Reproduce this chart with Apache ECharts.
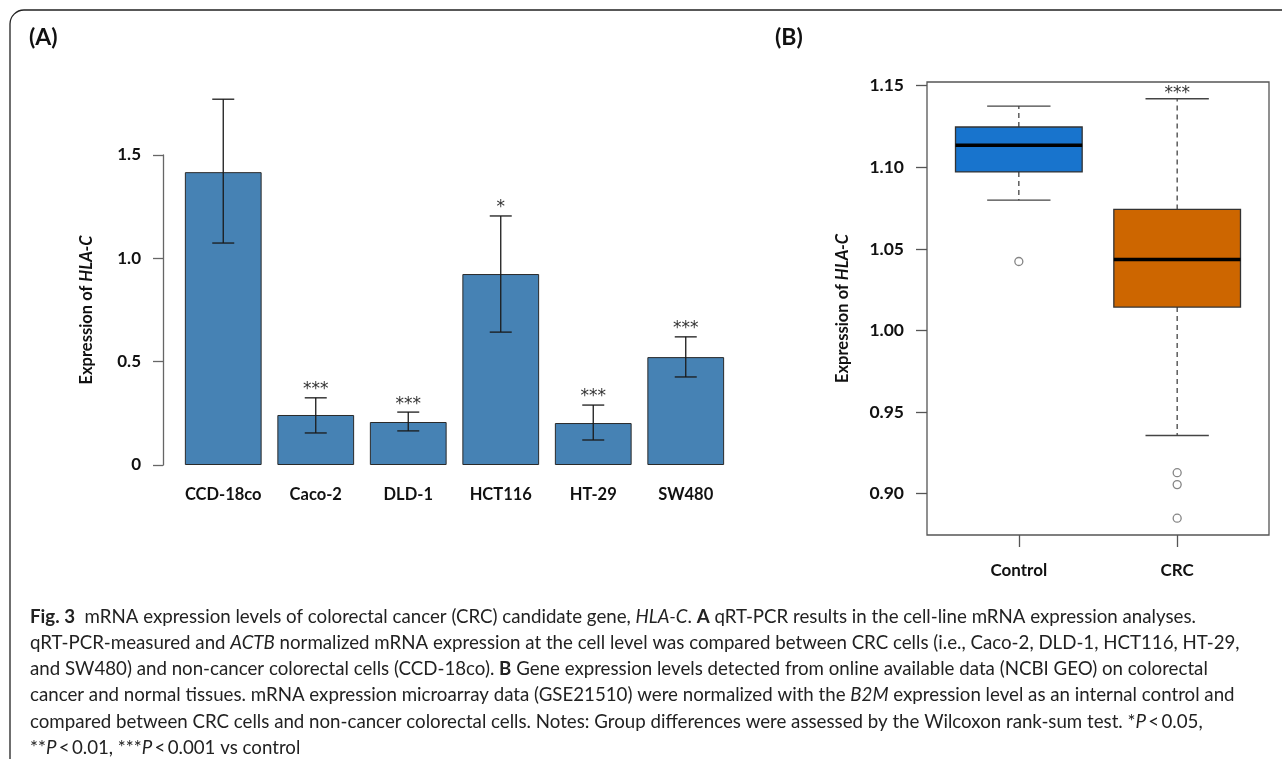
<!DOCTYPE html>
<html>
<head>
<meta charset="utf-8">
<script src="https://cdn.jsdelivr.net/npm/echarts@6/dist/echarts.min.js"></script>
<style>
html,body{margin:0;padding:0;background:#fff;}
#chart{width:1282px;height:759px;}
</style>
</head>
<body>
<div id="chart"></div>
<script>
// ---------- Panel A data ----------
const cellLines = ['CCD-18co', 'Caco-2', 'DLD-1', 'HCT116', 'HT-29', 'SW480'];
const meanExpr = [1.417, 0.242, 0.208, 0.924, 0.203, 0.522];
const errLower = [1.074, 0.155, 0.165, 0.643, 0.121, 0.426];
const errUpper = [1.770, 0.325, 0.256, 1.205, 0.290, 0.620];
const sigA = ['', '***', '***', '*', '***', '***'];
const yTicksA = [0, 0.5, 1.0, 1.5];

// ---------- Panel B data ----------
const groupsB = ['Control', 'CRC'];
const lowWhisker = [1.0799, 0.9357];
const q1 = [1.0972, 1.0144];
const medianB = [1.1136, 1.0435];
const q3 = [1.1247, 1.0742];
const highWhisker = [1.1375, 1.1420];
const outliersControl = [1.0423];
const outliersCRC = [0.9129, 0.9056, 0.8850];
const sigB = ['', '***'];
const yTicksB = [0.90, 0.95, 1.00, 1.05, 1.10, 1.15];

const FONT = 'Lato';
const boxColors = ['#1874CD', '#CD6600'];

// axis extent for B (R-style 4% padding of data range)
const allB = lowWhisker.concat(highWhisker, outliersControl, outliersCRC);
const bMin = Math.min.apply(null, allB), bMax = Math.max.apply(null, allB);
const bPad = (bMax - bMin) * 0.04;

const errData = cellLines.map((c, i) => [i, errLower[i], errUpper[i]]);
const boxData = groupsB.map((g, i) => [i + 1, lowWhisker[i], q1[i], medianB[i], q3[i], highWhisker[i], i]);
const outData = outliersControl.map(v => [1, v]).concat(outliersCRC.map(v => [2, v]));

const chart = echarts.init(document.getElementById('chart'));

const captionLines = [
  '{b|Fig. 3}  mRNA expression levels of colorectal cancer (CRC) candidate gene, {i|HLA-C}. {b|A} qRT-PCR results in the cell-line mRNA expression analyses.',
  'qRT-PCR-measured and {i|ACTB} normalized mRNA expression at the cell level was compared between CRC cells (i.e., Caco-2, DLD-1, HCT116, HT-29,',
  'and SW480) and non-cancer colorectal cells (CCD-18co). {b|B} Gene expression levels detected from online available data (NCBI GEO) on colorectal',
  'cancer and normal tissues. mRNA expression microarray data (GSE21510) were normalized with the {i|B2M} expression level as an internal control and',
  'compared between CRC cells and non-cancer colorectal cells. Notes: Group differences were assessed by the Wilcoxon rank-sum test. *{i|P}\u2009<\u20090.05,',
  '**{i|P}\u2009<\u20090.01, ***{i|P}\u2009<\u20090.001 vs control'
];
const capFont = 18.7;
const captionGraphics = captionLines.map((t, k) => ({
  type: 'text',
  left: 30,
  top: 607 + k * 26.3,
  style: {
    text: t,
    fontFamily: FONT,
    fontSize: capFont,
    fill: '#222',
    rich: {
      b: { fontWeight: 'bold', fontFamily: FONT, fontSize: capFont, fill: '#222' },
      i: { fontStyle: 'italic', fontFamily: FONT, fontSize: capFont, fill: '#222' }
    }
  }
}));

const starStyle = (s) => ({ text: s, fontFamily: 'DejaVu Sans', fontSize: 17, fill: '#333', align: 'center', verticalAlign: 'middle' });

const option = {
  animation: false,
  backgroundColor: '#fff',
  textStyle: { fontFamily: FONT },
  graphic: [
    { type: 'rect', shape: { x: 10, y: 10, width: 1320, height: 820, r: 14 },
      style: { fill: 'none', stroke: '#222', lineWidth: 1.3 }, silent: true },
    { type: 'text', left: 29, top: 26, style: { text: '(A)', fontFamily: FONT, fontWeight: 'bold', fontSize: 23, fill: '#111' } },
    { type: 'text', left: 775, top: 26, style: { text: '(B)', fontFamily: FONT, fontWeight: 'bold', fontSize: 23, fill: '#111' } }
  ].concat(captionGraphics),
  grid: [
    { left: 177, top: 155, width: 555, height: 310 },
    { left: 927, top: 82, width: 342, height: 453, show: true, borderColor: '#555', borderWidth: 1.3, backgroundColor: 'transparent' }
  ],
  xAxis: [
    { gridIndex: 0, type: 'category', data: cellLines,
      axisLine: { show: false }, axisTick: { show: false },
      axisLabel: { interval: 0, margin: 21, fontFamily: FONT, fontWeight: 'bold', fontSize: 16.5, color: '#111' } },
    { gridIndex: 1, type: 'value', min: 0.42, max: 2.58,
      axisLine: { show: false }, splitLine: { show: false },
      axisTick: { show: true, length: 12, customValues: [1, 2], lineStyle: { color: '#555', width: 1.3 } },
      axisLabel: { customValues: [1, 2], margin: 27, fontFamily: FONT, fontWeight: 'bold', fontSize: 17, color: '#111',
        formatter: v => groupsB[Math.round(v) - 1] } }
  ],
  yAxis: [
    { gridIndex: 0, type: 'value', min: 0, max: 1.5, interval: 0.5, offset: 14,
      axisLine: { show: true, lineStyle: { color: '#666', width: 1.3 } },
      axisTick: { show: true, length: 10, lineStyle: { color: '#666', width: 1.3 } },
      splitLine: { show: false },
      axisLabel: { margin: 22, fontFamily: FONT, fontWeight: 'bold', fontSize: 17, color: '#111',
        customValues: yTicksA,
        formatter: v => (v === 0 ? '0' : v.toFixed(1)) },
      name: 'Expression of {i|HLA-C}', nameLocation: 'middle', nameRotate: 90, nameGap: 68,
      nameTextStyle: { fontFamily: FONT, fontWeight: 'bold', fontSize: 16.5, color: '#111',
        rich: { i: { fontFamily: FONT, fontWeight: 'bold', fontStyle: 'italic', fontSize: 16.5, color: '#111' } } } },
    { gridIndex: 1, type: 'value', min: bMin - bPad, max: bMax + bPad,
      axisLine: { show: false }, splitLine: { show: false },
      axisTick: { show: true, length: 11, customValues: yTicksB, lineStyle: { color: '#555', width: 1.3 } },
      axisLabel: { customValues: yTicksB, margin: 23, fontFamily: FONT, fontWeight: 'bold', fontSize: 17.5, color: '#111',
        formatter: v => v.toFixed(2) },
      name: 'Expression of {i|HLA-C}', nameLocation: 'middle', nameRotate: 90, nameGap: 76,
      nameTextStyle: { fontFamily: FONT, fontWeight: 'bold', fontSize: 16.5, color: '#111',
        rich: { i: { fontFamily: FONT, fontWeight: 'bold', fontStyle: 'italic', fontSize: 16.5, color: '#111' } } } }
  ],
  series: [
    { type: 'bar', xAxisIndex: 0, yAxisIndex: 0, data: meanExpr, barWidth: '83%',
      itemStyle: { color: '#4682B4', borderColor: '#2a2a2a', borderWidth: 1 } },
    { type: 'custom', xAxisIndex: 0, yAxisIndex: 0, data: errData, clip: false, z: 5,
      encode: { x: 0, y: [1, 2] },
      renderItem: function (params, api) {
        const i = api.value(0);
        const lo = api.coord([i, api.value(1)]);
        const hi = api.coord([i, api.value(2)]);
        const cw = 11;
        const st = { stroke: '#1a1a1a', lineWidth: 1.3 };
        const children = [
          { type: 'line', shape: { x1: lo[0], y1: lo[1], x2: hi[0], y2: hi[1] }, style: st },
          { type: 'line', shape: { x1: lo[0] - cw, y1: lo[1], x2: lo[0] + cw, y2: lo[1] }, style: st },
          { type: 'line', shape: { x1: hi[0] - cw, y1: hi[1], x2: hi[0] + cw, y2: hi[1] }, style: st }
        ];
        const s = sigA[i];
        if (s) {
          children.push({ type: 'text', x: hi[0], y: hi[1] - 8, style: starStyle(s) });
        }
        return { type: 'group', children: children };
      } },
    { type: 'custom', xAxisIndex: 1, yAxisIndex: 1, data: boxData, clip: false, z: 5,
      encode: { x: 0, y: [1, 5] },
      renderItem: function (params, api) {
        const xv = api.value(0);
        const idx = api.value(6);
        const halfW = api.size([0.8, 0])[0] / 2;
        const capW = halfW / 2;
        const pLw = api.coord([xv, api.value(1)]);
        const pQ1 = api.coord([xv, api.value(2)]);
        const pMed = api.coord([xv, api.value(3)]);
        const pQ3 = api.coord([xv, api.value(4)]);
        const pUw = api.coord([xv, api.value(5)]);
        const cx = pMed[0];
        const dash = { stroke: '#444', lineWidth: 1.3, lineDash: [5, 4] };
        const solid = { stroke: '#444', lineWidth: 1.4 };
        const children = [
          { type: 'line', shape: { x1: cx, y1: pQ3[1], x2: cx, y2: pUw[1] }, style: dash },
          { type: 'line', shape: { x1: cx, y1: pQ1[1], x2: cx, y2: pLw[1] }, style: dash },
          { type: 'line', shape: { x1: cx - capW, y1: pUw[1], x2: cx + capW, y2: pUw[1] }, style: solid },
          { type: 'line', shape: { x1: cx - capW, y1: pLw[1], x2: cx + capW, y2: pLw[1] }, style: solid },
          { type: 'rect', shape: { x: cx - halfW, y: pQ3[1], width: 2 * halfW, height: pQ1[1] - pQ3[1] },
            style: { fill: boxColors[idx], stroke: '#333', lineWidth: 1.3 } },
          { type: 'line', shape: { x1: cx - halfW, y1: pMed[1], x2: cx + halfW, y2: pMed[1] },
            style: { stroke: '#000', lineWidth: 3.5 } }
        ];
        const s = sigB[idx];
        if (s) {
          children.push({ type: 'text', x: cx, y: pUw[1] - 5, style: starStyle(s) });
        }
        return { type: 'group', children: children };
      } },
    { type: 'scatter', xAxisIndex: 1, yAxisIndex: 1, data: outData, symbol: 'circle', symbolSize: 8,
      itemStyle: { color: '#fff', borderColor: '#666', borderWidth: 1.3 } }
  ]
};
chart.setOption(option);
</script>
</body>
</html>
